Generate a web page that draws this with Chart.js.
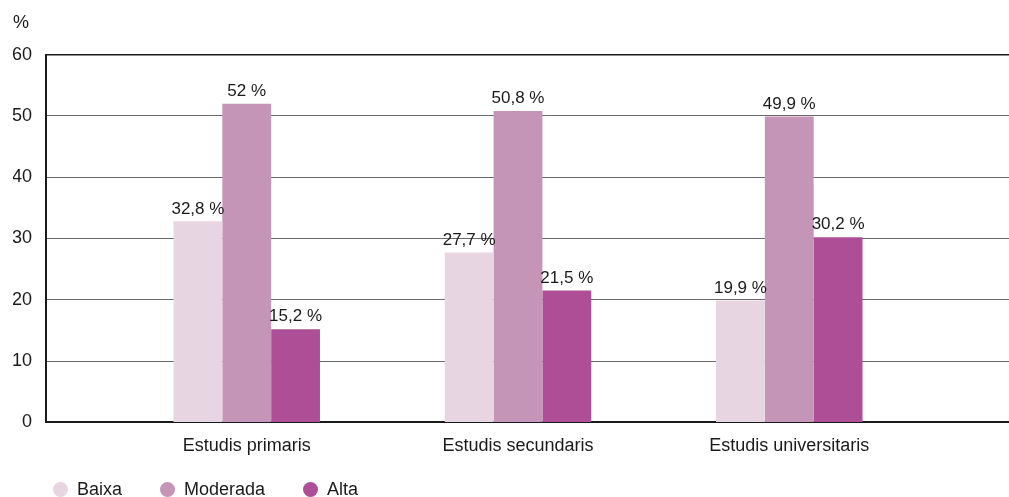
<!DOCTYPE html>
<html>
<head>
<meta charset="utf-8">
<script src="https://cdn.jsdelivr.net/npm/chart.js@4/dist/chart.umd.min.js"></script>
<style>
  html, body { margin: 0; padding: 0; background: #fff; overflow: hidden; }
  #wrap { position: relative; width: 1009px; height: 497px; overflow: hidden; }
  #legend {
    position: absolute; left: 53px; top: 479px;
    display: flex; align-items: center;
    font-family: 'Liberation Sans', Arial, sans-serif; font-size: 18px; color: #1a1a1a;
  }
  #legend .item { display: flex; align-items: center; margin-right: 38px; }
  #legend .dot { width: 15px; height: 15px; border-radius: 50%; margin-right: 9px; }
</style>
</head>
<body>
<div id="wrap">
  <canvas id="chart"></canvas>
  <div id="legend"></div>
</div>
<script>
const categories = ['Estudis primaris', 'Estudis secundaris', 'Estudis universitaris'];
const seriesNames = ['Baixa', 'Moderada', 'Alta'];
const baixa = [32.8, 27.7, 19.9];
const moderada = [52, 50.8, 49.9];
const alta = [15.2, 21.5, 30.2];
const yTicks = [0, 10, 20, 30, 40, 50, 60];

const colors = ['#e7d6e2', '#c595b8', '#ad4e97'];
const FONT = "'Liberation Sans', Arial, sans-serif";

// x positions of the groups on a linear axis
const xPos = [1, 2, 3];

function toPoints(values) {
    return values.map((v, i) => ({ x: xPos[i], y: v }));
}

const valueLabels = {
    id: 'valueLabels',
    afterDatasetsDraw(chart) {
        const ctx = chart.ctx;
        ctx.save();
        ctx.font = '17px ' + FONT;
        ctx.fillStyle = '#1a1a1a';
        ctx.textAlign = 'center';
        ctx.textBaseline = 'bottom';
        chart.data.datasets.forEach((ds, di) => {
            chart.getDatasetMeta(di).data.forEach((bar, i) => {
                const txt = String(ds.data[i].y).replace('.', ',') + ' %';
                ctx.fillText(txt, bar.x, bar.y - 4);
            });
        });
        ctx.restore();
    }
};

const chart = new Chart(document.getElementById('chart'), {
    type: 'bar',
    data: {
        datasets: [
            { label: seriesNames[0], data: toPoints(baixa), backgroundColor: colors[0] },
            { label: seriesNames[1], data: toPoints(moderada), backgroundColor: colors[1] },
            { label: seriesNames[2], data: toPoints(alta), backgroundColor: colors[2] }
        ]
    },
    options: {
        responsive: true,
        maintainAspectRatio: false,
        animation: false,
        layout: { padding: { left: 13, right: 0, top: 0, bottom: 35 } },
        datasets: {
            bar: { categoryPercentage: 0.54, barPercentage: 1, grouped: true }
        },
        scales: {
            x: {
                type: 'linear',
                offset: false,
                min: 0.26,
                max: 3.81,
                afterBuildTicks(scale) {
                    scale.ticks = xPos.map(v => ({ value: v }));
                },
                ticks: {
                    font: { family: FONT, size: 18 },
                    color: '#1a1a1a',
                    padding: 5,
                    callback: (v) => categories[xPos.indexOf(v)] || ''
                },
                grid: { display: false },
                border: { display: true, color: '#1a1a1a', width: 2 }
            },
            y: {
                min: 0,
                max: 60,
                afterBuildTicks(scale) {
                    scale.ticks = yTicks.map(v => ({ value: v }));
                },
                afterFit(scale) {
                    scale.width = 33;
                },
                ticks: {
                    font: { family: FONT, size: 18 },
                    color: '#1a1a1a',
                    padding: 14
                },
                grid: {
                    drawTicks: false,
                    color: (c) => c.tick && c.tick.value === 60 ? '#1a1a1a' : '#6a6a6a',
                    lineWidth: (c) => c.tick && c.tick.value === 60 ? 1.5 : 1
                },
                border: { display: true, color: '#1a1a1a', width: 2 }
            }
        },
        plugins: {
            title: {
                display: true,
                text: '%',
                align: 'start',
                color: '#1a1a1a',
                font: { family: FONT, size: 18, weight: 'normal' },
                padding: { top: 12, bottom: 21 }
            },
            legend: { display: false },
            tooltip: { enabled: false }
        }
    },
    plugins: [valueLabels]
});

// legend below the axis labels
const legendEl = document.getElementById('legend');
chart.data.datasets.forEach(ds => {
    const item = document.createElement('div');
    item.className = 'item';
    const dot = document.createElement('span');
    dot.className = 'dot';
    dot.style.background = ds.backgroundColor;
    const label = document.createElement('span');
    label.textContent = ds.label;
    item.appendChild(dot);
    item.appendChild(label);
    legendEl.appendChild(item);
});
</script>
</body>
</html>
